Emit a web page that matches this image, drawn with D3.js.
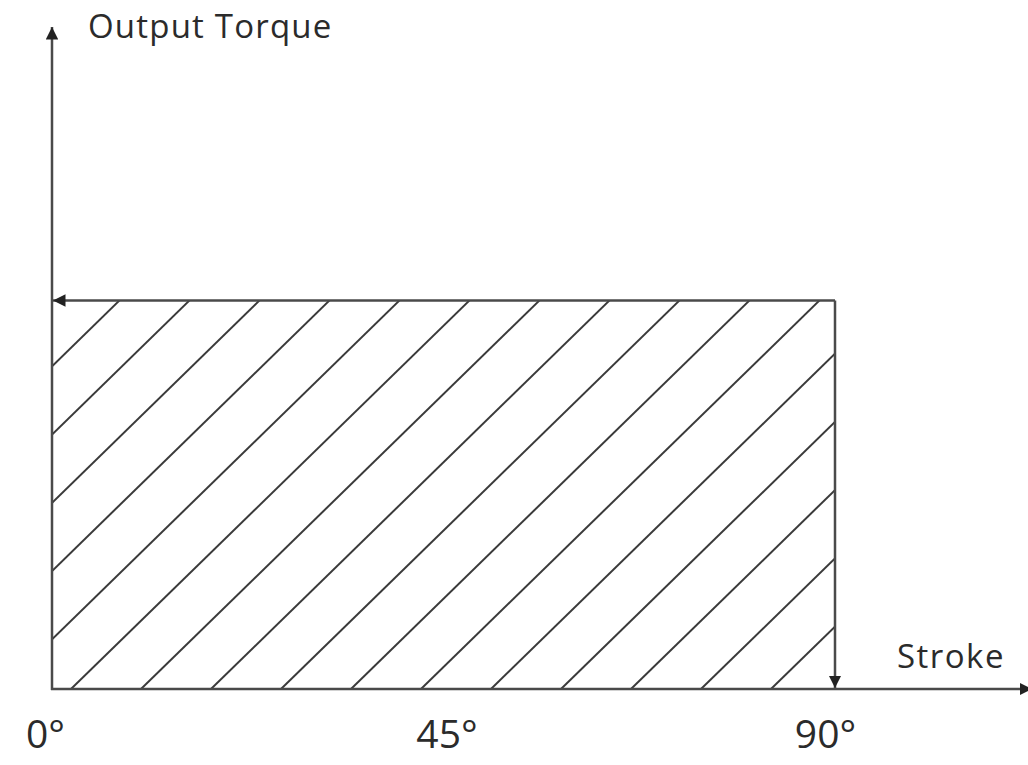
<!DOCTYPE html>
<html>
<head>
<meta charset="utf-8">
<script src="https://cdn.jsdelivr.net/npm/d3@7"></script>
<style>
  html, body { margin: 0; padding: 0; background: #fff; }
  svg { display: block; }
  text { font-family: "Open Sans", "Noto Sans", sans-serif; fill: #2b2b2b; }
</style>
</head>
<body>
<div id="chart"></div>
<script>
// chart data
const strokeTicks = [0, 45, 90];
const tickLabels = ['0°', '45°', '90°'];
const strokeSpan = [0, 90];      // stroke range of constant torque
const torqueLevel = [1, 1];      // output torque (relative) along the stroke
const axisTitles = ['Output Torque', 'Stroke'];

const width = 1028, height = 765;
const lineColor = '#4a4a4a';

const svg = d3.select('#chart').append('svg')
  .attr('width', width)
  .attr('height', height);

const x = d3.scaleLinear().domain([0, 90]).range([52, 835]);
const y = d3.scaleLinear().domain([0, 1.67]).range([689, 40]);

// arrow markers
const defs = svg.append('defs');
function marker(id) {
  defs.append('marker')
    .attr('id', id)
    .attr('viewBox', '0 0 10 10')
    .attr('refX', 10).attr('refY', 5)
    .attr('markerWidth', 5).attr('markerHeight', 5)
    .attr('markerUnits', 'strokeWidth')
    .attr('orient', 'auto')
    .append('path')
    .attr('d', 'M0,0 L10,5 L0,10 Z')
    .attr('fill', '#222');
}
marker('arrow');

// hatched region
defs.append('clipPath').attr('id', 'rectClip')
  .append('rect')
  .attr('x', x(strokeSpan[0]))
  .attr('y', y(torqueLevel[0]))
  .attr('width', x(strokeSpan[1]) - x(strokeSpan[0]))
  .attr('height', y(0) - y(torqueLevel[0]));

const spacing = 70, slope = 0.975, phase = 71;
const x1 = x(strokeSpan[1]);
const yb = y(0), yt = y(torqueLevel[0]);
const starts = d3.range(phase - spacing * 7, x1 + spacing, spacing);
svg.append('g')
  .attr('clip-path', 'url(#rectClip)')
  .selectAll('line')
  .data(starts)
  .enter()
  .append('line')
  .attr('x1', d => d)
  .attr('y1', yb)
  .attr('x2', d => d + (yb - yt) / slope)
  .attr('y2', yt)
  .attr('stroke', '#3a3a3a')
  .attr('stroke-width', 2);

// top edge with arrow pointing back to the torque axis
svg.append('line')
  .attr('x1', x(strokeSpan[1])).attr('y1', y(torqueLevel[1]))
  .attr('x2', x(strokeSpan[0]) + 1).attr('y2', y(torqueLevel[0]))
  .attr('stroke', lineColor).attr('stroke-width', 2.5)
  .attr('marker-end', 'url(#arrow)');

// right edge with arrow pointing down to the stroke axis
svg.append('line')
  .attr('x1', x(strokeSpan[1])).attr('y1', y(torqueLevel[1]))
  .attr('x2', x(strokeSpan[1])).attr('y2', y(0) - 1)
  .attr('stroke', lineColor).attr('stroke-width', 2.5)
  .attr('marker-end', 'url(#arrow)');

// y axis (output torque)
svg.append('line')
  .attr('x1', x(0)).attr('y1', y(0) + 1)
  .attr('x2', x(0)).attr('y2', 27)
  .attr('stroke', lineColor).attr('stroke-width', 2.5)
  .attr('marker-end', 'url(#arrow)');

// x axis (stroke), runs to the right edge
svg.append('line')
  .attr('x1', x(0) - 1).attr('y1', y(0))
  .attr('x2', width + 4).attr('y2', y(0))
  .attr('stroke', lineColor).attr('stroke-width', 2.5)
  .attr('marker-end', 'url(#arrow)');

// tick labels
const xAxis = d3.axisBottom(x)
  .tickValues(strokeTicks)
  .tickFormat((d, i) => tickLabels[i])
  .tickSize(0)
  .tickPadding(31);

const gx = svg.append('g')
  .attr('transform', `translate(0,${y(0)})`)
  .call(xAxis);
gx.select('.domain').remove();
gx.selectAll('.tick text')
  .attr('font-family', '"Open Sans", "Noto Sans", sans-serif')
  .attr('font-size', 39)
  .attr('fill', '#2b2b2b')
  .attr('dx', (d, i) => [-7, 3, -10][i]);

// axis titles
svg.append('text')
  .attr('x', 88).attr('y', 38)
  .attr('font-size', 33)
  .attr('letter-spacing', 1.2)
  .text(axisTitles[0]);

svg.append('text')
  .attr('x', 1005).attr('y', 668)
  .attr('text-anchor', 'end')
  .attr('font-size', 33)
  .attr('letter-spacing', 1.5)
  .text(axisTitles[1]);
</script>
</body>
</html>
